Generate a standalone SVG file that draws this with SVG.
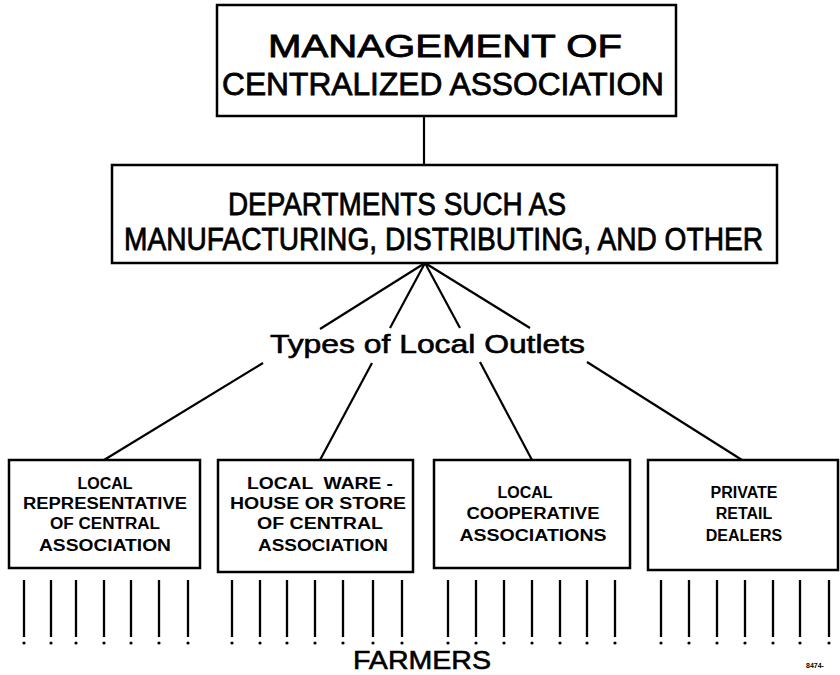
<svg xmlns="http://www.w3.org/2000/svg" width="840" height="675" viewBox="0 0 840 675">
<style>
.box{fill:#fff;stroke:#000;stroke-width:2.5}
.big{font-family:"Liberation Sans","DejaVu Sans",sans-serif;font-size:32px;fill:#000;stroke:#000;stroke-width:0.8}
.mid{font-family:"Liberation Sans","DejaVu Sans",sans-serif;font-size:26px;fill:#000;stroke:#000;stroke-width:0.6}
.small{font-family:"Liberation Sans","DejaVu Sans",sans-serif;font-size:16px;font-weight:bold;fill:#000;text-anchor:middle}
.conn{stroke:#000;stroke-width:2.2;fill:none}
.farm{stroke:#000;stroke-width:2.3}
</style>
<rect width="840" height="675" fill="#fff"/>
<g id="connectors">
<line class="conn" x1="424" y1="116" x2="424" y2="165"/>
<line class="conn" x1="425" y1="263" x2="320" y2="329"/>
<line class="conn" x1="425" y1="263" x2="390" y2="328"/>
<line class="conn" x1="425" y1="263" x2="460" y2="328"/>
<line class="conn" x1="425" y1="263" x2="530" y2="328"/>
<line class="conn" x1="263" y1="363" x2="104" y2="460"/>
<line class="conn" x1="372" y1="363" x2="320" y2="460"/>
<line class="conn" x1="480" y1="362" x2="532" y2="460"/>
<line class="conn" x1="587" y1="362" x2="742" y2="460"/>
</g>
<g id="management">
<rect class="box" x="217" y="5" width="459" height="111"/>
<text class="big" x="268" y="57" textLength="354" lengthAdjust="spacingAndGlyphs">MANAGEMENT OF</text>
<text class="big" x="222" y="95" textLength="442" lengthAdjust="spacingAndGlyphs">CENTRALIZED ASSOCIATION</text>
</g>
<g id="departments">
<rect class="box" x="112" y="165" width="665" height="98"/>
<text class="big" x="228" y="215" font-size="28" textLength="338" lengthAdjust="spacingAndGlyphs">DEPARTMENTS  SUCH AS</text>
<text class="big" x="124" y="250" font-size="27" textLength="639" lengthAdjust="spacingAndGlyphs">MANUFACTURING, DISTRIBUTING, AND OTHER</text>
</g>
<g id="types">
<text class="mid" x="270" y="353" textLength="315" lengthAdjust="spacingAndGlyphs">Types of Local Outlets</text>
</g>
<g id="box1">
<rect class="box" x="9" y="460" width="191" height="108"/>
<text class="small" x="105" y="489">LOCAL</text>
<text class="small" x="105" y="509" textLength="164" lengthAdjust="spacingAndGlyphs">REPRESENTATIVE</text>
<text class="small" x="105" y="529" textLength="110" lengthAdjust="spacingAndGlyphs">OF CENTRAL</text>
<text class="small" x="105" y="551" textLength="132" lengthAdjust="spacingAndGlyphs">ASSOCIATION</text>
</g>
<g id="box2">
<rect class="box" x="218" y="460" width="195" height="112"/>
<text class="small" x="320" y="489" xml:space="preserve" textLength="146" lengthAdjust="spacingAndGlyphs">LOCAL  WARE -</text>
<text class="small" x="318" y="509" textLength="176" lengthAdjust="spacingAndGlyphs">HOUSE OR STORE</text>
<text class="small" x="320" y="529" textLength="126" lengthAdjust="spacingAndGlyphs">OF CENTRAL</text>
<text class="small" x="323" y="551" textLength="130" lengthAdjust="spacingAndGlyphs">ASSOCIATION</text>
</g>
<g id="box3">
<rect class="box" x="434" y="460" width="196" height="108"/>
<text class="small" x="525" y="498">LOCAL</text>
<text class="small" x="533" y="519" textLength="133" lengthAdjust="spacingAndGlyphs">COOPERATIVE</text>
<text class="small" x="533" y="541" textLength="147" lengthAdjust="spacingAndGlyphs">ASSOCIATIONS</text>
</g>
<g id="box4">
<rect class="box" x="648" y="460" width="190" height="110"/>
<text class="small" x="744" y="498">PRIVATE</text>
<text class="small" x="744" y="519">RETAIL</text>
<text class="small" x="744" y="541">DEALERS</text>
</g>
<g id="farmers">
<g class="farm">
<line x1="24" y1="580" x2="24" y2="637"/><line x1="51" y1="580" x2="51" y2="637"/><line x1="76" y1="580" x2="76" y2="637"/><line x1="104" y1="580" x2="104" y2="637"/><line x1="131" y1="580" x2="131" y2="637"/><line x1="159" y1="580" x2="159" y2="637"/><line x1="188" y1="580" x2="188" y2="637"/>
<line x1="232" y1="580" x2="232" y2="637"/><line x1="260" y1="580" x2="260" y2="637"/><line x1="287" y1="580" x2="287" y2="637"/><line x1="315" y1="580" x2="315" y2="637"/><line x1="343" y1="580" x2="343" y2="637"/><line x1="373" y1="580" x2="373" y2="637"/><line x1="402" y1="580" x2="402" y2="637"/>
<line x1="448" y1="580" x2="448" y2="637"/><line x1="476" y1="580" x2="476" y2="637"/><line x1="504" y1="580" x2="504" y2="637"/><line x1="532" y1="580" x2="532" y2="637"/><line x1="560" y1="580" x2="560" y2="637"/><line x1="587" y1="580" x2="587" y2="637"/><line x1="615" y1="580" x2="615" y2="637"/>
<line x1="661" y1="580" x2="661" y2="637"/><line x1="689" y1="580" x2="689" y2="637"/><line x1="717" y1="580" x2="717" y2="637"/><line x1="745" y1="580" x2="745" y2="637"/><line x1="773" y1="580" x2="773" y2="637"/><line x1="800" y1="580" x2="800" y2="637"/><line x1="829" y1="580" x2="829" y2="637"/>
</g>
<g fill="#000">
<circle cx="24" cy="643" r="1.6"/><circle cx="51" cy="643" r="1.6"/><circle cx="76" cy="643" r="1.6"/><circle cx="104" cy="643" r="1.6"/><circle cx="131" cy="643" r="1.6"/><circle cx="159" cy="643" r="1.6"/><circle cx="188" cy="643" r="1.6"/>
<circle cx="232" cy="643" r="1.6"/><circle cx="260" cy="643" r="1.6"/><circle cx="287" cy="643" r="1.6"/><circle cx="315" cy="643" r="1.6"/><circle cx="343" cy="643" r="1.6"/><circle cx="373" cy="643" r="1.6"/><circle cx="402" cy="643" r="1.6"/>
<circle cx="448" cy="643" r="1.6"/><circle cx="476" cy="643" r="1.6"/><circle cx="504" cy="643" r="1.6"/><circle cx="532" cy="643" r="1.6"/><circle cx="560" cy="643" r="1.6"/><circle cx="587" cy="643" r="1.6"/><circle cx="615" cy="643" r="1.6"/>
<circle cx="661" cy="643" r="1.6"/><circle cx="689" cy="643" r="1.6"/><circle cx="717" cy="643" r="1.6"/><circle cx="745" cy="643" r="1.6"/><circle cx="773" cy="643" r="1.6"/><circle cx="800" cy="643" r="1.6"/><circle cx="829" cy="643" r="1.6"/>
</g>
<text class="mid" x="353" y="669" font-size="24" textLength="138" lengthAdjust="spacingAndGlyphs">FARMERS</text>
<text x="806" y="668" font-family="Liberation Sans, sans-serif" font-size="7" font-weight="bold" fill="#000">8474-</text>
</g>
</svg>
